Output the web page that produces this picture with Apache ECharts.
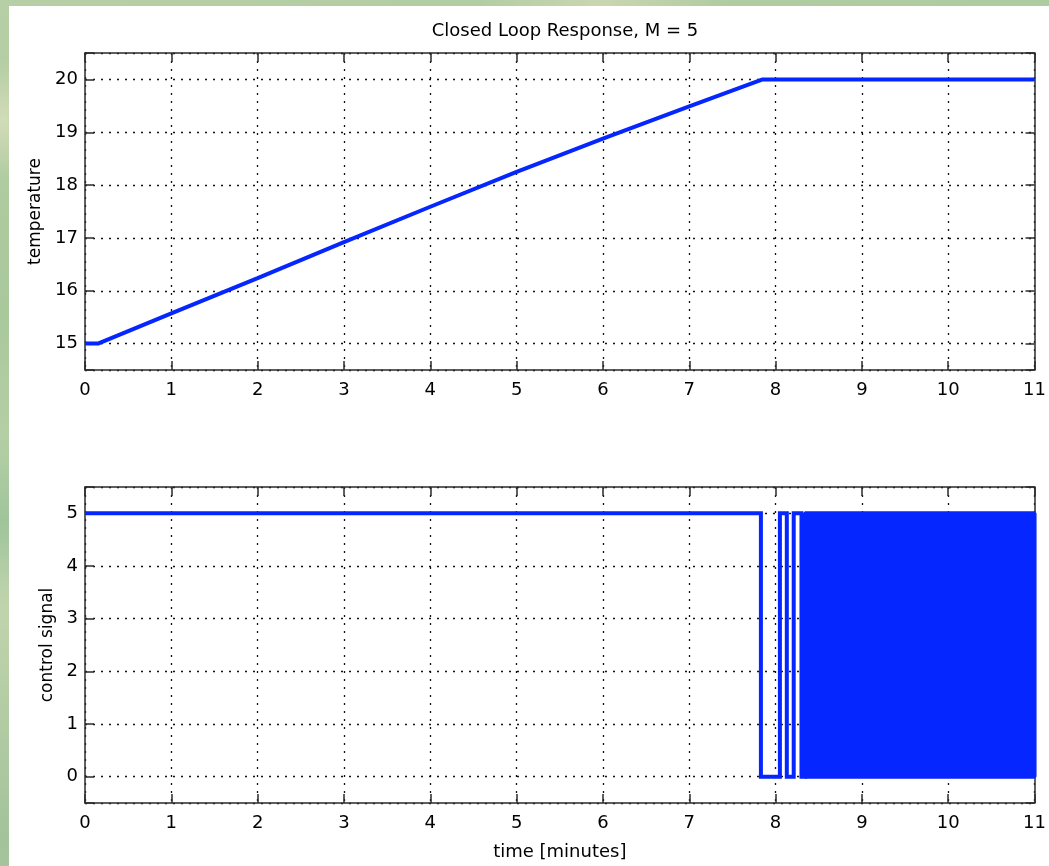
<!DOCTYPE html>
<html lang="en">
<head>
    <meta charset="UTF-8">
    <title>Closed Loop Response, M = 5</title>
    <script src="https://cdn.jsdelivr.net/npm/echarts@6/dist/echarts.min.js"></script>
    <style>
        html, body { margin: 0; padding: 0; }
        body {
            width: 1049px; height: 866px; overflow: hidden;
            background:
                radial-gradient(circle at 3px 120px, #d2dcb8 0, transparent 60px),
                radial-gradient(circle at 4px 520px, #9fc49a 0, transparent 90px),
                radial-gradient(circle at 600px 2px, #c9d6b2 0, transparent 120px),
                linear-gradient(170deg, #b7cfa6 0%, #a9c89c 30%, #c4d6b0 55%, #a3c39a 80%, #bcd0a8 100%);
        }
    </style>
</head>
<body>
<div id="main" style="width:1049px;height:866px;"></div>

<script type="text/javascript">
    // temperature response (minutes, degrees)
    var tempTime = [0, 0.15, 1, 2, 3, 4, 5, 6, 7, 7.85, 11];
    var tempValue = [15, 15, 15.57, 16.24, 16.92, 17.59, 18.25, 18.88, 19.49, 20, 20];

    // control signal: switching before the chattering starts
    var ctrlTime = [0, 7.83, 7.83, 8.05, 8.05, 8.13, 8.13, 8.21, 8.21, 8.30, 8.30, 8.34, 8.34];
    var ctrlValue = [5, 5, 0, 0, 5, 5, 0, 0, 5, 5, 0, 0, 5];

    // fast chattering between 0 and 5 looks like a solid band
    var chatterTime = [8.34, 8.34, 11, 11, 8.34];
    var chatterValue = [0, 5, 5, 0, 0];

    var xTicks = [0, 11, 1];
    var tempRange = [14.5, 20.5];
    var ctrlRange = [-0.5, 5.5];

    function pairs(xs, ys) {
        var out = [];
        for (var i = 0; i < xs.length; i++) {
            out.push([xs[i], ys[i]]);
        }
        return out;
    }

    var font = 'DejaVu Sans';
    var frame = '#2b2b2b';
    var blue = '#0526ff';

    function intLabel(v) {
        return Math.abs(v - Math.round(v)) < 1e-6 ? String(Math.round(v)) : '';
    }

    function xAxisMain(grid, name) {
        return {
            type: 'value', gridIndex: grid, position: 'bottom',
            min: xTicks[0], max: xTicks[1], interval: xTicks[2],
            name: name, nameLocation: 'middle', nameGap: 40,
            nameTextStyle: {color: '#000', fontFamily: font, fontSize: 18},
            axisLine: {show: true, onZero: false, lineStyle: {color: frame, width: 1.5}},
            axisTick: {show: true, inside: true, length: 9, lineStyle: {color: frame, width: 1.5}},
            axisLabel: {color: '#000', fontFamily: font, fontSize: 18, margin: 11},
            splitLine: {show: true, lineStyle: {color: '#111', width: 1.3, type: [2, 6]}}
        };
    }

    function xAxisTop(grid) {
        return {
            type: 'value', gridIndex: grid, position: 'top',
            min: xTicks[0], max: xTicks[1], interval: xTicks[2],
            axisLine: {show: true, onZero: false, lineStyle: {color: frame, width: 1.5}},
            axisTick: {show: true, inside: true, length: 9, lineStyle: {color: frame, width: 1.5}},
            axisLabel: {show: false},
            splitLine: {show: false}
        };
    }

    function yAxisMain(grid, range, name, gap) {
        return {
            type: 'value', gridIndex: grid, position: 'left',
            min: range[0], max: range[1], minInterval: 1, maxInterval: 1,
            name: name, nameLocation: 'middle', nameGap: gap, nameRotate: 90,
            nameTextStyle: {color: '#000', fontFamily: font, fontSize: 17},
            axisLine: {show: true, onZero: false, lineStyle: {color: frame, width: 1.5}},
            axisTick: {show: true, inside: true, length: 9, lineStyle: {color: frame, width: 1.5}},
            axisLabel: {color: '#000', fontFamily: font, fontSize: 18, margin: 7, formatter: intLabel},
            splitLine: {show: true, lineStyle: {color: '#111', width: 1.3, type: [2, 6]}}
        };
    }

    function yAxisRight(grid, range) {
        return {
            type: 'value', gridIndex: grid, position: 'right',
            min: range[0], max: range[1], minInterval: 1, maxInterval: 1,
            axisLine: {show: true, onZero: false, lineStyle: {color: frame, width: 1.5}},
            axisTick: {show: true, inside: true, length: 9, lineStyle: {color: frame, width: 1.5}},
            axisLabel: {show: false},
            splitLine: {show: false}
        };
    }

    var myChart = echarts.init(document.getElementById('main'));

    var option = {
        backgroundColor: 'transparent',
        animation: false,
        graphic: [{
            type: 'rect', z: -10, silent: true,
            shape: {x: 9, y: 6, width: 1040, height: 860},
            style: {fill: '#ffffff'}
        }],
        title: {
            text: 'Closed Loop Response, M = 5',
            left: 560, top: 17, textAlign: 'center',
            textStyle: {color: '#000', fontFamily: font, fontSize: 18, fontWeight: 'normal'}
        },
        grid: [
            {left: 85, right: 13, top: 53, height: 317, containLabel: false},
            {left: 85, right: 13, top: 487, height: 316, containLabel: false}
        ],
        xAxis: [
            xAxisMain(0, ''), xAxisTop(0),
            xAxisMain(1, 'time [minutes]'), xAxisTop(1)
        ],
        yAxis: [
            yAxisMain(0, tempRange, 'temperature', 38), yAxisRight(0, tempRange),
            yAxisMain(1, ctrlRange, 'control signal', 25), yAxisRight(1, ctrlRange)
        ],
        series: [
            {
                name: 'temperature', type: 'line', xAxisIndex: 0, yAxisIndex: 0,
                data: pairs(tempTime, tempValue), showSymbol: false,
                lineStyle: {color: blue, width: 4}
            },
            {
                name: 'control', type: 'line', xAxisIndex: 2, yAxisIndex: 2,
                data: pairs(ctrlTime, ctrlValue), showSymbol: false,
                lineStyle: {color: blue, width: 4, join: 'miter'}
            },
            {
                name: 'chatter', type: 'line', xAxisIndex: 2, yAxisIndex: 2,
                data: pairs(chatterTime, chatterValue), showSymbol: false,
                lineStyle: {color: blue, width: 4},
                areaStyle: {color: blue, opacity: 1}
            }
        ]
    };

    myChart.setOption(option);
</script>
</body>
</html>
